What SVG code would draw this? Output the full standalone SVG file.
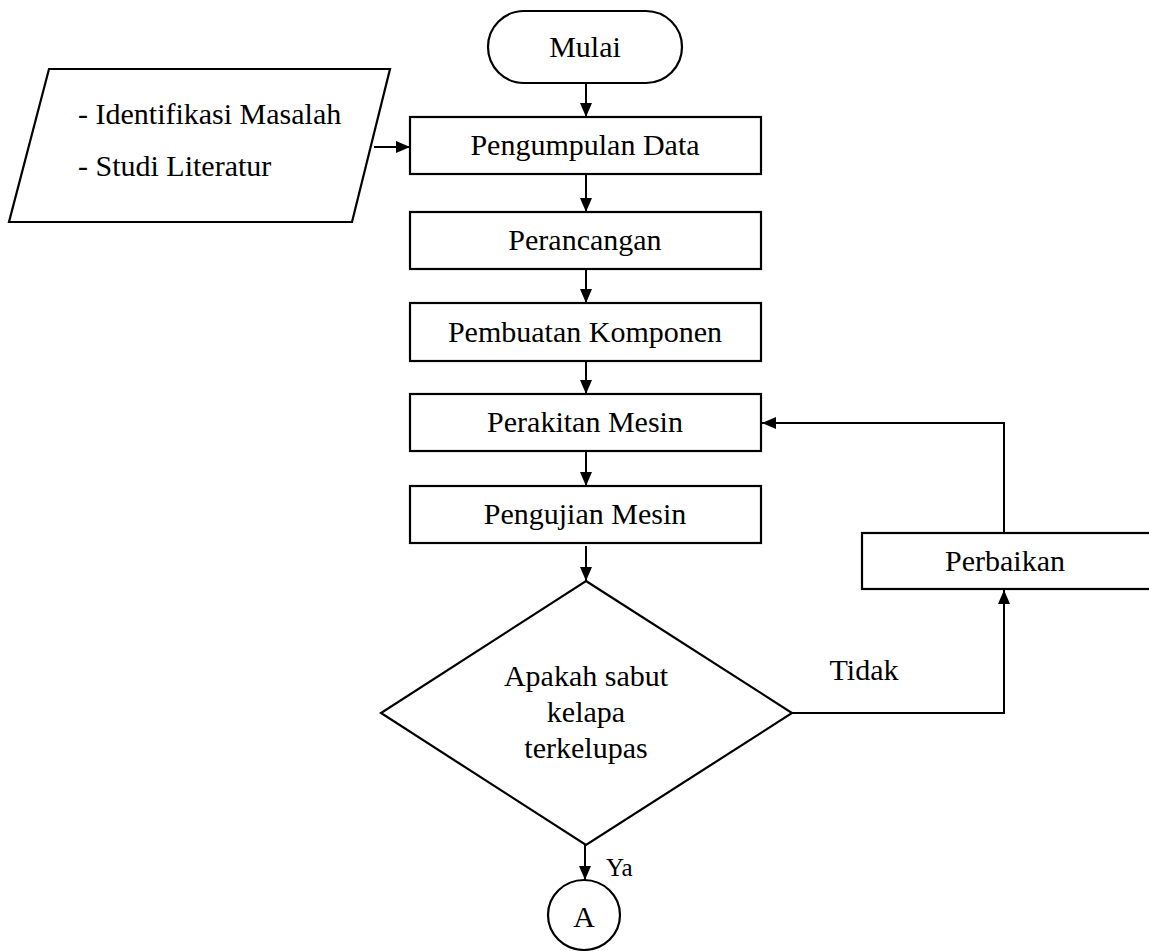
<svg xmlns="http://www.w3.org/2000/svg" width="1149" height="951" viewBox="0 0 1149 951">
<style>
.s{fill:#fff;stroke:#000;stroke-width:2.2}
.t{font-family:"Liberation Serif","Times New Roman",serif;font-size:30px;fill:#000;text-anchor:middle}
.tl{font-family:"Liberation Serif","Times New Roman",serif;font-size:30px;fill:#000}
.c{fill:none;stroke:#000;stroke-width:2}
</style>
<defs>
<marker id="ah" viewBox="0 0 14 12" refX="14" refY="6" markerWidth="14" markerHeight="12" markerUnits="userSpaceOnUse" orient="auto">
<path d="M0,0 L14,6 L0,12 Z" fill="#000"/>
</marker>
</defs>
<rect width="1149" height="951" fill="#fff"/>
<g id="mulai"><rect class="s" x="488" y="11" width="194" height="72" rx="36" ry="36"/><text class="t" x="585" y="57">Mulai</text></g>
<g id="input"><polygon class="s" points="49,69 390,69 352,222 9,222"/><text class="tl" x="78" y="124">- Identifikasi Masalah</text><text class="tl" x="78" y="176">- Studi Literatur</text></g>
<g id="pengumpulan"><rect class="s" x="410" y="117" width="351" height="57"/><text class="t" x="585" y="155">Pengumpulan Data</text></g>
<g id="perancangan"><rect class="s" x="410" y="212" width="351" height="57"/><text class="t" x="585" y="250">Perancangan</text></g>
<g id="pembuatan"><rect class="s" x="410" y="303" width="351" height="58"/><text class="t" x="585" y="342">Pembuatan Komponen</text></g>
<g id="perakitan"><rect class="s" x="410" y="394" width="351" height="57"/><text class="t" x="585" y="432">Perakitan Mesin</text></g>
<g id="pengujian"><rect class="s" x="410" y="486" width="351" height="57"/><text class="t" x="585" y="524">Pengujian Mesin</text></g>
<g id="keputusan"><polygon class="s" points="586,581 792,713 586,845 381,713"/><text class="t" x="586" y="686">Apakah sabut</text><text class="t" x="586" y="722">kelapa</text><text class="t" x="586" y="758">terkelupas</text></g>
<g id="perbaikan"><rect class="s" x="862" y="533" width="292" height="56"/><text class="t" x="1005" y="571">Perbaikan</text></g>
<g id="konektor-a"><ellipse class="s" cx="584" cy="915" rx="36" ry="35"/><text class="t" x="584" y="927">A</text></g>
<g id="connectors">
<line class="c" x1="586" y1="83" x2="586" y2="117" marker-end="url(#ah)"/>
<line class="c" x1="374" y1="147" x2="410" y2="147" marker-end="url(#ah)"/>
<line class="c" x1="586" y1="174" x2="586" y2="212" marker-end="url(#ah)"/>
<line class="c" x1="586" y1="269" x2="586" y2="303" marker-end="url(#ah)"/>
<line class="c" x1="586" y1="361" x2="586" y2="394" marker-end="url(#ah)"/>
<line class="c" x1="586" y1="451" x2="586" y2="486" marker-end="url(#ah)"/>
<line class="c" x1="586" y1="546" x2="586" y2="581" marker-end="url(#ah)"/>
<polyline class="c" points="792,713 1004,713 1004,590" marker-end="url(#ah)"/>
<polyline class="c" points="1004,533 1004,423 762,423" marker-end="url(#ah)"/>
<line class="c" x1="585" y1="845" x2="585" y2="880" marker-end="url(#ah)"/>
<text class="t" x="864" y="680">Tidak</text>
<text class="tl" x="606" y="876" style="font-size:25px">Ya</text>
</g>
</svg>
